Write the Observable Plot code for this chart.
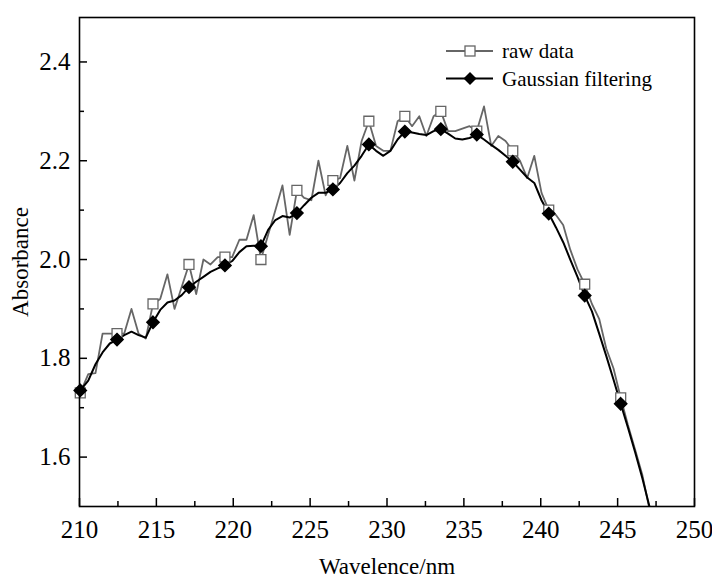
<!DOCTYPE html>
<html><head><meta charset="utf-8">
<script src="https://cdn.jsdelivr.net/npm/d3@7"></script>
<script src="https://cdn.jsdelivr.net/npm/@observablehq/plot@0.6"></script>
<style>
body{margin:0;background:#fff;}
#chart{position:relative;width:712px;height:578px;}
#legend{position:absolute;left:0;top:0;}
</style></head><body><div id="chart"></div>
<script>
const wavelength = [210.05,210.57,211.04,211.50,211.97,212.44,212.91,213.38,213.84,214.31,
214.78,215.25,215.72,216.18,216.65,217.12,217.59,218.06,218.52,218.99,
219.46,219.93,220.40,220.86,221.33,221.80,222.27,222.74,223.20,223.67,
224.14,224.61,225.08,225.54,226.01,226.48,226.95,227.42,227.88,228.35,
228.82,229.29,229.76,230.22,230.69,231.16,231.63,232.10,232.56,233.03,
233.50,233.97,234.44,234.90,235.37,235.84,236.31,236.78,237.24,237.71,
238.18,238.65,239.12,239.58,240.05,240.52,240.99,241.46,241.92,242.39,
242.86,243.33,243.80,244.26,244.73,245.20,245.67,246.14,246.60,247.07,247.54];
const rawData = [1.73,1.768,1.77,1.85,1.85,1.85,1.85,1.90,1.85,1.84,
1.91,1.92,1.97,1.90,1.945,1.99,1.93,2.00,1.99,2.005,
2.005,2.005,2.04,2.04,2.09,2.00,2.05,2.10,2.15,2.05,
2.14,2.125,2.12,2.20,2.13,2.16,2.165,2.23,2.16,2.24,
2.28,2.23,2.22,2.22,2.28,2.29,2.27,2.29,2.25,2.29,
2.30,2.26,2.26,2.265,2.27,2.26,2.31,2.23,2.25,2.24,
2.22,2.20,2.165,2.21,2.135,2.10,2.09,2.07,2.02,1.98,
1.95,1.91,1.88,1.82,1.78,1.72,1.665,1.615,1.565,1.495,1.44];
const gaussian = [1.735,1.755,1.788,1.812,1.83,1.838,1.847,1.854,1.847,1.842,
1.873,1.898,1.913,1.917,1.928,1.944,1.955,1.965,1.975,1.982,
1.988,1.997,2.015,2.027,2.028,2.027,2.06,2.08,2.088,2.085,
2.094,2.11,2.125,2.135,2.135,2.142,2.155,2.175,2.19,2.21,
2.233,2.22,2.21,2.22,2.243,2.259,2.257,2.254,2.252,2.26,
2.264,2.255,2.245,2.243,2.246,2.253,2.243,2.232,2.222,2.21,
2.198,2.182,2.166,2.155,2.12,2.093,2.065,2.035,2.0,1.965,
1.927,1.895,1.85,1.805,1.757,1.708,1.66,1.61,1.558,1.5,1.445];
const xTicks = [210,215,220,225,230,235,240,245,250];
const xMinor = [212.5,217.5,222.5,227.5,232.5,237.5,242.5,247.5];
const yTicks = [1.6,1.8,2.0,2.2,2.4];
const yMinor = [1.7,1.9,2.1,2.3];
const seriesNames = ["raw data","Gaussian filtering"];

const yDomain = [1.5, 2.49];
const rows = wavelength.map((w,i)=>({w, raw: rawData[i], gauss: gaussian[i], i}));
const markers = rows.filter(d => d.i % 5 === 0 && d.raw >= yDomain[0] && d.gauss >= yDomain[0]);
const gray = "#666666";

const plot = Plot.plot({
  width: 712, height: 578,
  marginLeft: 79, marginRight: 18, marginTop: 17, marginBottom: 72,
  style: {fontFamily: "Liberation Serif", fontSize: "25px", background: "#fff", color: "#000"},
  x: {domain: [210, 250]},
  y: {domain: yDomain},
  marks: [
    Plot.line(rows, {x: "w", y: "raw", stroke: gray, strokeWidth: 1.8, clip: true}),
    Plot.line(rows, {x: "w", y: "gauss", stroke: "#000", strokeWidth: 2, clip: true}),
    Plot.dot(markers, {x: "w", y: "raw", symbol: "square", r: 5.6, fill: "#fff", stroke: gray, strokeWidth: 1.3}),
    Plot.dot(markers, {x: "w", y: "gauss", symbol: "diamond2", r: 5.5, fill: "#000", stroke: "#000"}),
    Plot.axisX(xTicks, {tickSize: -8, tickPadding: 22, tickFormat: d => String(d), strokeWidth: 1.5,
      label: "Wavelence/nm", labelAnchor: "center", labelOffset: 67, labelArrow: false, fontSize: 25}),
    Plot.axisX(xMinor, {tickSize: -5, tickFormat: () => "", strokeWidth: 1.5, label: null}),
    Plot.axisY(yTicks, {tickSize: -8, tickPadding: 17, tickFormat: d3.format(".1f"), strokeWidth: 1.5,
      label: "Absorbance", labelAnchor: "center", labelOffset: 68, labelArrow: false, fontSize: 25}),
    Plot.axisY(yMinor, {tickSize: -5, tickFormat: () => "", strokeWidth: 1.5, label: null}),
    Plot.frame({stroke: "#000", strokeWidth: 1.6})
  ]
});
plot.querySelectorAll('[aria-label$="axis label"] text, [aria-label$="axis label"]').forEach(e => e.setAttribute("font-size", "23px"));
const chart = document.getElementById("chart");
chart.appendChild(plot);

// legend
const ns = "http://www.w3.org/2000/svg";
const lg = document.createElementNS(ns, "svg");
lg.setAttribute("id", "legend");
lg.setAttribute("width", 712); lg.setAttribute("height", 120);
const rowsY = [51, 78.5];
seriesNames.forEach((name, k) => {
  const y = rowsY[k];
  const ln = document.createElementNS(ns, "line");
  ln.setAttribute("x1", 446); ln.setAttribute("x2", 493); ln.setAttribute("y1", y); ln.setAttribute("y2", y);
  ln.setAttribute("stroke", k === 0 ? gray : "#000"); ln.setAttribute("stroke-width", k === 0 ? 1.8 : 2);
  lg.appendChild(ln);
  if (k === 0) {
    const r = document.createElementNS(ns, "rect");
    r.setAttribute("x", 465); r.setAttribute("y", y - 5); r.setAttribute("width", 10); r.setAttribute("height", 10);
    r.setAttribute("fill", "#fff"); r.setAttribute("stroke", gray); r.setAttribute("stroke-width", 1.3);
    lg.appendChild(r);
  } else {
    const p = document.createElementNS(ns, "path");
    p.setAttribute("d", `M470,${y-6.5}L476.5,${y}L470,${y+6.5}L463.5,${y}Z`);
    p.setAttribute("fill", "#000");
    lg.appendChild(p);
  }
  const t = document.createElementNS(ns, "text");
  t.setAttribute("x", 502); t.setAttribute("y", y + 7);
  t.setAttribute("font-family", "Liberation Serif"); t.setAttribute("font-size", "21px");
  t.textContent = name;
  lg.appendChild(t);
});
chart.appendChild(lg);
</script></body></html>
